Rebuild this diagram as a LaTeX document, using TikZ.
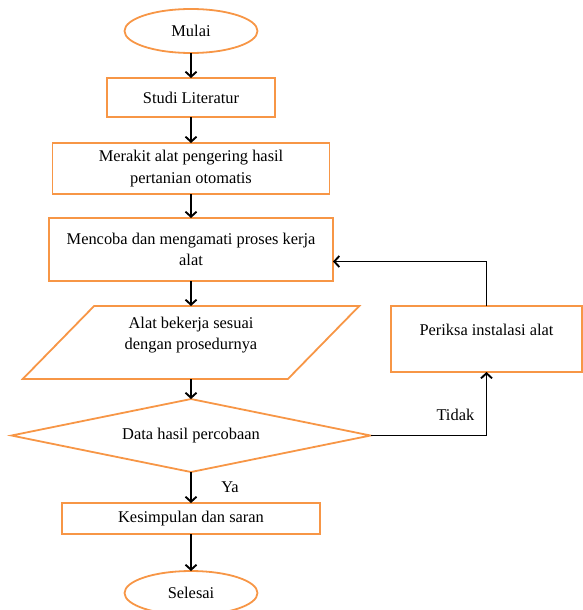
\documentclass[tikz,border=0pt]{standalone}
\usepackage{fontspec}
\setmainfont{Liberation Serif}
\usepackage{tikz}
\usepackage{xcolor}
\usetikzlibrary{arrows.meta,positioning,shapes.geometric,calc}

\definecolor{oranye}{HTML}{F79646}

\begin{document}
\begin{tikzpicture}[x=1pt, y=-1pt, node distance=25pt,
  font=\fontsize{16.4}{21.5}\selectfont,
  box/.style={draw=oranye, line width=1.8pt, align=center, inner sep=2pt, outer sep=0pt},
  term/.style={box, ellipse, minimum width=133pt, minimum height=44pt},
  io/.style={box, trapezium, trapezium left angle=47.5, trapezium right angle=132.5,
    trapezium stretches, minimum width=337pt, minimum height=73pt},
  decision/.style={box, diamond, aspect=4.92, minimum width=359pt, minimum height=73pt, inner sep=0pt},
  arr/.style={-{Straight Barb[length=5pt,width=11pt]}, line width=1.9pt}]

\useasboundingbox (0,0) rectangle (582,610);

\node (mulai) [term] at (191,31) {Mulai};
\node (studi) [box, below=of mulai, minimum width=168pt, minimum height=39pt] {Studi Literatur};
\node (rakit) [box, below=26pt of studi, minimum width=277pt, minimum height=51pt] {Merakit alat pengering hasil\\pertanian otomatis};
\node (coba) [box, below=24pt of rakit, minimum width=284pt, minimum height=63pt] {Mencoba dan mengamati proses kerja\\alat};
\node (alat) [io, below=of coba, text depth=18pt] {Alat bekerja sesuai\\dengan prosedurnya};
\node (data) [decision, below=20pt of alat] {Data hasil percobaan};
\node (simpul) [box, below=31pt of data, minimum width=258pt, minimum height=31pt] {Kesimpulan dan saran};
\node (selesai) [term, below=37pt of simpul] {Selesai};

\node (cek) [box, minimum width=191pt, minimum height=66pt, text depth=18pt] at (486.5,339) {Periksa instalasi alat};

\draw[arr] (mulai) -- (studi);
\draw[arr] (studi) -- (rakit);
\draw[arr] (rakit) -- (coba);
\draw[arr] (coba) -- (alat);
\draw[arr] (alat) -- (data);
\draw[arr] (data) -- node[right=26pt] {Ya} (simpul);
\draw[arr] (simpul) -- (selesai);

\draw[arr] (data.east) -| node[pos=0.5, anchor=south east, xshift=-8pt, yshift=11pt] {Tidak} (cek.south);
\draw[arr] (cek.north) |- ([yshift=-12pt]coba.east);

\end{tikzpicture}
\end{document}
